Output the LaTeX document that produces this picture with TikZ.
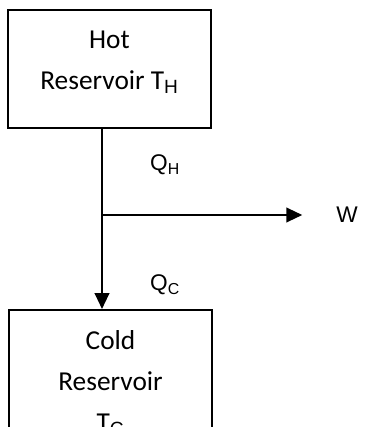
\documentclass[tikz,border=0pt]{standalone}
\usepackage{fontspec}
\setmainfont{Carlito}
\newfontfamily\qfont{Liberation Sans}
\usetikzlibrary{arrows.meta}

\tikzset{
  resbox/.style={draw, line width=1.5pt, minimum width=152pt, minimum height=88.5pt, inner sep=0pt},
  restext/.style={align=center, font=\fontsize{20.5}{30.75}\selectfont},
  qlabel/.style={font=\qfont\fontsize{17}{20}\selectfont},
  flow/.style={line width=1.6pt},
  flowarrow/.style={flow, -{Triangle[length=12pt,width=11pt]}}
}

\begin{document}
\begin{tikzpicture}[x=0.75pt,y=-0.75pt]
\useasboundingbox (0,0) rectangle (365,427);
\clip (0,0) rectangle (365,427);

\node[resbox] (hot) at (109.5,69) {};
\node[restext] (hotname) at (109.5,62) {Hot\\Reservoir T\textsubscript{\qfont H}};

\node[resbox, minimum height=97.5pt] (cold) at (110.5,375) {};
\node[restext] (coldname) at (110.5,383) {Cold\\Reservoir\\T\textsubscript{\qfont C}};

\coordinate (split) at (102,215);
\node[qlabel] (qh) at (165,165) {Q\textsubscript{H}};
\node[qlabel] (qc) at (165,285) {Q\textsubscript{C}};
\node[qlabel] (work) at (347,215) {W};

\draw[flow] (hot.south -| split) -- (split);
\draw[flowarrow] (split) -- (cold.north -| split);
\draw[flowarrow, shorten >=22pt] (split) -- (work);
\end{tikzpicture}
\end{document}
